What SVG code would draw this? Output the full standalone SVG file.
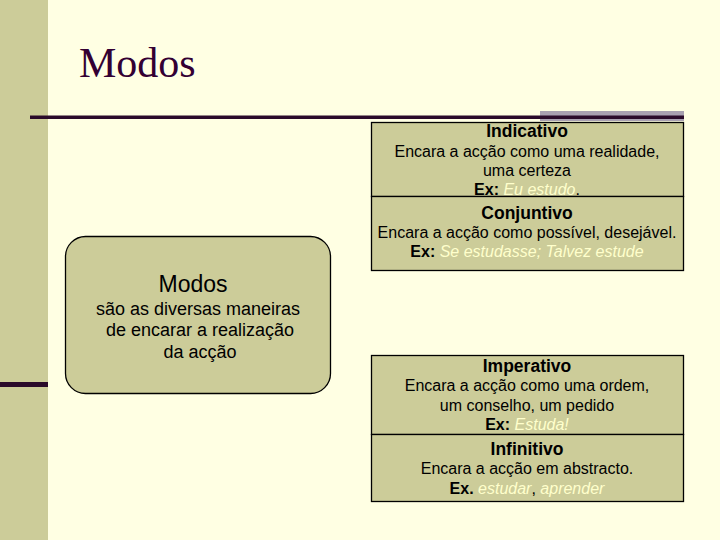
<svg xmlns="http://www.w3.org/2000/svg" width="720" height="540" viewBox="0 0 720 540">
<style>
.box{fill:#CCCC99;stroke:#000;stroke-width:1.3}
.t{font-family:"Liberation Sans",Arial,sans-serif;font-size:16px;fill:#000;text-anchor:middle}
.h{font-weight:bold;font-size:17.5px}
.ex{fill:#FFFFCC;font-style:italic}
.m{font-family:"Liberation Sans",Arial,sans-serif;fill:#000;text-anchor:middle;font-size:18px}
.mt{font-size:23px}
</style>
<rect width="720" height="540" fill="#FFFFE3"/>
<rect x="0" y="0" width="48" height="540" fill="#CCCC99"/>
<rect x="0" y="382" width="48" height="5" fill="#2A0A2A"/>
<rect x="540" y="111" width="144" height="10" fill="#A8A0B0"/>
<rect x="30" y="115.5" width="654" height="3.5" fill="#2A0A2A"/>
<text x="79" y="77" font-family="Liberation Serif,Times New Roman,serif" font-size="42" fill="#330033">Modos</text>
<g id="modos">
<rect x="65.5" y="236.5" width="265" height="157" rx="20" class="box"/>
<text x="193" y="292" class="m mt">Modos</text>
<text x="198" y="315" class="m">são as diversas maneiras</text>
<text x="200" y="336" class="m">de encarar a realização</text>
<text x="200" y="358" class="m">da acção</text>
</g>
<g id="indicativo">
<rect x="371.5" y="122.5" width="312" height="74" class="box"/>
<text x="527" y="137" class="t h">Indicativo</text>
<text x="527" y="157" class="t">Encara a acção como uma realidade,</text>
<text x="527" y="176" class="t">uma certeza</text>
<text x="527" y="195" class="t"><tspan font-weight="bold">Ex: </tspan><tspan class="ex">Eu estudo</tspan>.</text>
</g>
<g id="conjuntivo">
<rect x="371.5" y="196.5" width="312" height="74" class="box"/>
<text x="527" y="219" class="t h">Conjuntivo</text>
<text x="527" y="238" class="t">Encara a acção como possível, desejável.</text>
<text x="527" y="257" class="t"><tspan font-weight="bold">Ex: </tspan><tspan class="ex">Se estudasse; Talvez estude</tspan></text>
</g>
<g id="imperativo">
<rect x="371.5" y="355.5" width="312" height="79" class="box"/>
<text x="527" y="372" class="t h">Imperativo</text>
<text x="527" y="391" class="t">Encara a acção como uma ordem,</text>
<text x="527" y="411" class="t">um conselho, um pedido</text>
<text x="527" y="430" class="t"><tspan font-weight="bold">Ex: </tspan><tspan class="ex">Estuda!</tspan></text>
</g>
<g id="infinitivo">
<rect x="371.5" y="434.5" width="312" height="67" class="box"/>
<text x="527" y="455" class="t h">Infinitivo</text>
<text x="527" y="474" class="t">Encara a acção em abstracto.</text>
<text x="527" y="494" class="t"><tspan font-weight="bold">Ex. </tspan><tspan class="ex">estudar</tspan>, <tspan class="ex">aprender</tspan></text>
</g>
<g id="connectors"></g>
</svg>
